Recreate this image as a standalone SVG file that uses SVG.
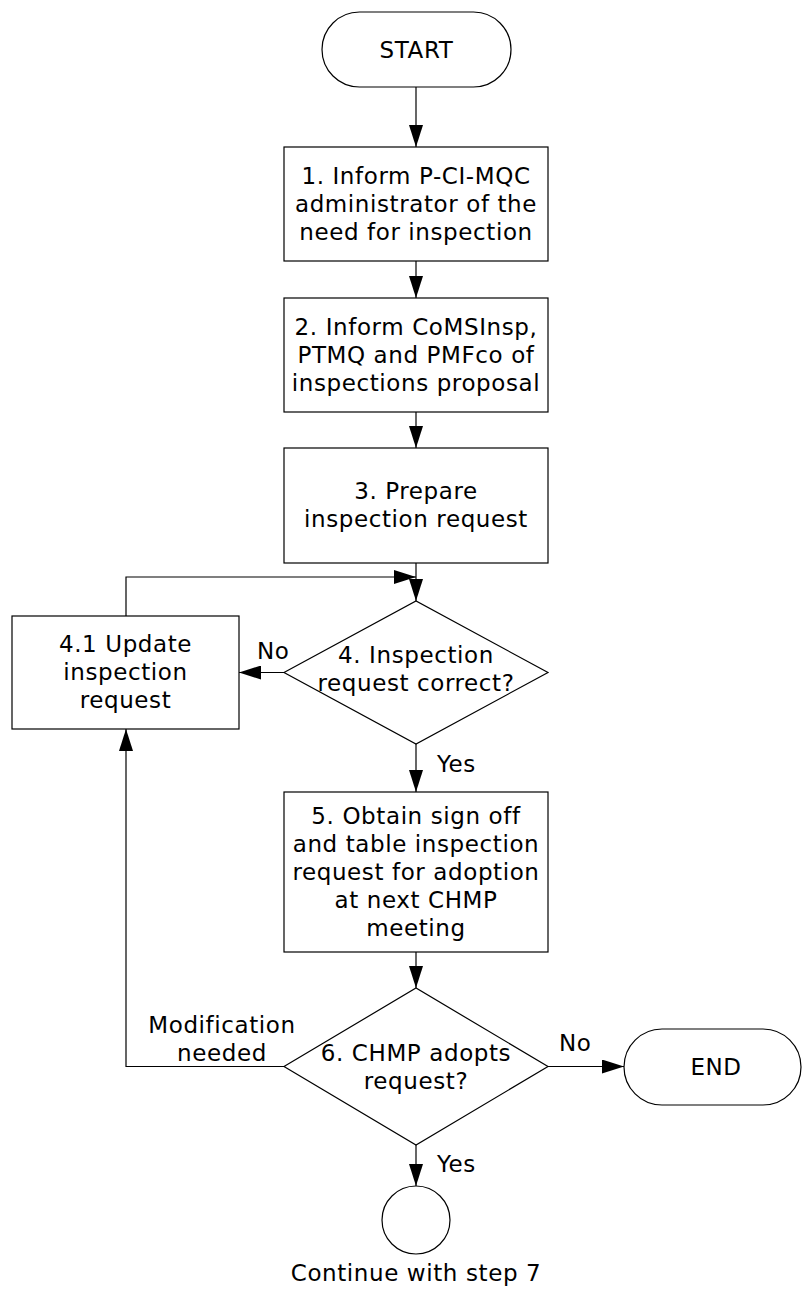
<svg xmlns="http://www.w3.org/2000/svg" width="803" height="1291" viewBox="0 0 803 1291">
<style>
.s{fill:#fff;stroke:#000;stroke-width:1.2}
.t{font-family:"DejaVu Sans",Verdana,sans-serif;font-size:23px;fill:#000;text-anchor:middle;letter-spacing:0.6px}
.l{font-family:"DejaVu Sans",Verdana,sans-serif;font-size:23px;fill:#000;letter-spacing:0.6px}
.c{fill:none;stroke:#000;stroke-width:1.2}
</style>
<defs>
<marker id="a" markerUnits="userSpaceOnUse" markerWidth="22" markerHeight="14" refX="22" refY="7" orient="auto">
<path d="M0,0 L22,7 L0,14 z" fill="#000"/>
</marker>
</defs>
<g id="connectors">
<path class="c" d="M416,87 V147" marker-end="url(#a)"/>
<path class="c" d="M416,261 V298" marker-end="url(#a)"/>
<path class="c" d="M416,412 V448" marker-end="url(#a)"/>
<path class="c" d="M416,563 V601" marker-end="url(#a)"/>
<path class="c" d="M126,616 V577 H416" marker-end="url(#a)"/>
<path class="c" d="M284,672.5 H239" marker-end="url(#a)"/>
<path class="c" d="M416,744 V792" marker-end="url(#a)"/>
<path class="c" d="M416,952 V988" marker-end="url(#a)"/>
<path class="c" d="M284,1066.5 H126 V729" marker-end="url(#a)"/>
<path class="c" d="M548,1066.5 H624" marker-end="url(#a)"/>
<path class="c" d="M416,1145 V1186" marker-end="url(#a)"/>
<text class="l" x="257" y="659">No</text>
<text class="l" x="437" y="772">Yes</text>
<text class="t" x="222" y="1033">Modification</text>
<text class="t" x="222" y="1061">needed</text>
<text class="l" x="559" y="1051">No</text>
<text class="l" x="437" y="1172">Yes</text>
</g>
<g id="start">
<rect class="s" x="322" y="12" width="189" height="75" rx="37.5"/>
<text class="t" x="416.5" y="58">START</text>
</g>
<g id="step1">
<rect class="s" x="284" y="147" width="264" height="114"/>
<text class="t" x="416" y="184">1. Inform P-CI-MQC</text>
<text class="t" x="416" y="212">administrator of the</text>
<text class="t" x="416" y="240">need for inspection</text>
</g>
<g id="step2">
<rect class="s" x="284" y="298" width="264" height="114"/>
<text class="t" x="416" y="335">2. Inform CoMSInsp,</text>
<text class="t" x="416" y="363">PTMQ and PMFco of</text>
<text class="t" x="416" y="391">inspections proposal</text>
</g>
<g id="step3">
<rect class="s" x="284" y="448" width="264" height="115"/>
<text class="t" x="416" y="499">3. Prepare</text>
<text class="t" x="416" y="527">inspection request</text>
</g>
<g id="step4">
<polygon class="s" points="284,672.5 416,601 548,672.5 416,744"/>
<text class="t" x="416" y="663">4. Inspection</text>
<text class="t" x="416" y="691">request correct?</text>
</g>
<g id="step4_1">
<rect class="s" x="12" y="616" width="227" height="113"/>
<text class="t" x="125.5" y="652">4.1 Update</text>
<text class="t" x="125.5" y="680">inspection</text>
<text class="t" x="125.5" y="708">request</text>
</g>
<g id="step5">
<rect class="s" x="284" y="792" width="264" height="160"/>
<text class="t" x="416" y="824">5. Obtain sign off</text>
<text class="t" x="416" y="852">and table inspection</text>
<text class="t" x="416" y="880">request for adoption</text>
<text class="t" x="416" y="908">at next CHMP</text>
<text class="t" x="416" y="936">meeting</text>
</g>
<g id="step6">
<polygon class="s" points="284,1066.5 416,988 548,1066.5 416,1145"/>
<text class="t" x="416" y="1061">6. CHMP adopts</text>
<text class="t" x="416" y="1089">request?</text>
</g>
<g id="end">
<rect class="s" x="624" y="1029" width="177" height="76" rx="38"/>
<text class="t" x="716" y="1075">END</text>
</g>
<g id="continue">
<circle class="s" cx="416" cy="1220" r="34"/>
<text class="t" x="416" y="1281">Continue with step 7</text>
</g>
</svg>
